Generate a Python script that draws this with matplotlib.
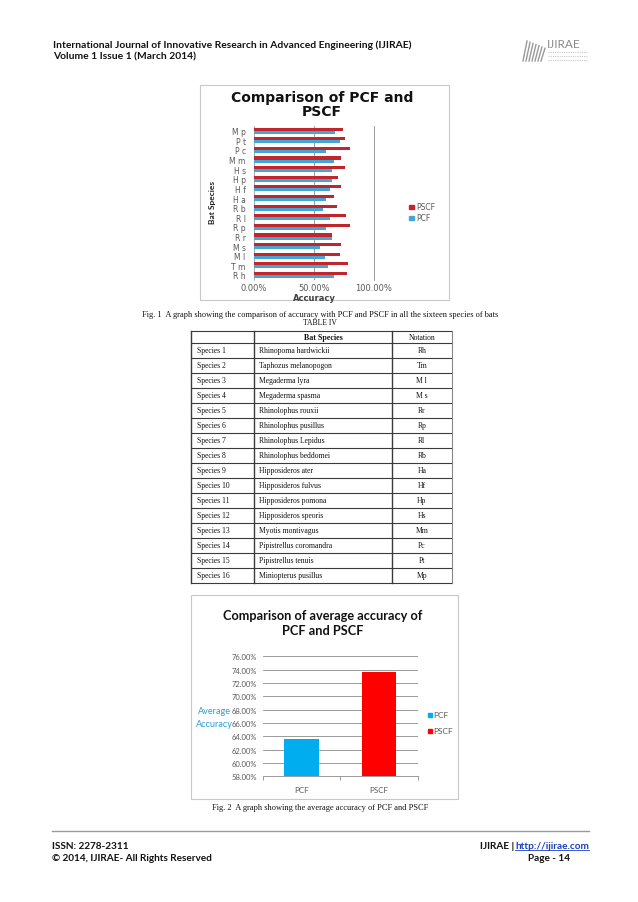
import matplotlib
matplotlib.use('Agg')
import matplotlib.pyplot as plt
from matplotlib.patches import Rectangle
import numpy as np

W, H = 638, 903
NARROW = ['Lato', 'DejaVu Sans']
SERIF = ['Liberation Serif', 'DejaVu Serif']
SANS = ['DejaVu Sans']

# ---------------- data ----------------
bar_labels = ['R h', 'T m', 'M l', 'M s', 'R r', 'R p', 'R l', 'R b',
              'H a', 'H f', 'H p', 'H s', 'M m', 'P c', 'P t', 'M p']
pcf_acc = [66.9, 62.1, 59.6, 55.1, 65.2, 59.8, 63.5, 57.9,
           59.8, 63.8, 65.4, 65.4, 66.9, 59.8, 72.2, 68.0]
pscf_acc = [78.1, 78.7, 72.2, 72.5, 65.2, 80.3, 76.7, 69.7,
            66.9, 72.8, 70.5, 75.8, 73.0, 80.1, 76.4, 74.2]
series_names = ['PSCF', 'PCF']
fig1_xticks = [0, 50, 100]

species_ids = ['Species %d' % i for i in range(1, 17)]
species_names = ['Rhinopoma hardwickii', 'Taphozus melanopogon', 'Megaderma lyra',
                 'Megaderma spasma', 'Rhinolophus rouxii', 'Rhinolophus pusillus',
                 'Rhinolophus Lepidus', 'Rhinolophus beddomei', 'Hipposideros ater',
                 'Hipposideros fulvus', 'Hipposideros pomona', 'Hipposideros speoris',
                 'Myotis montivagus', 'Pipistrellus coromandra', 'Pipistrellus tenuis',
                 'Miniopterus pusillus']
notations = ['Rh', 'Tm', 'M l', 'M s', 'Rr', 'Rp', 'Rl', 'Rb', 'Ha', 'Hf', 'Hp',
             'Hs', 'Mm', 'Pc', 'Pt', 'Mp']
table_header = ['', 'Bat Species', 'Notation']

avg_categories = ['PCF', 'PSCF']
avg_acc = [63.6, 73.7]
fig2_yticks = [58, 60, 62, 64, 66, 68, 70, 72, 74, 76]

RED1, BLUE1 = '#C0262E', '#45A5D4'
BLUE2, RED2 = '#00AEEF', '#FF0000'
GRAY_TXT = '#595959'

fig = plt.figure(figsize=(W / 100, H / 100), dpi=100)
page = fig.add_axes([0, 0, 1, 1])
page.set_xlim(0, W)
page.set_ylim(H, 0)
page.axis('off')


def axes_px(x0, y0, x1, y1):
    return fig.add_axes([x0 / W, 1 - y1 / H, (x1 - x0) / W, (y1 - y0) / H])


# ---------------- page header ----------------
page.text(53, 45, 'International Journal of Innovative Research in Advanced Engineering (IJIRAE)',
          family=NARROW, weight='bold', fontsize=7.4, va='center', ha='left', color='#111')
page.text(53, 57, 'Volume 1 Issue 1 (March 2014)',
          family=NARROW, weight='bold', fontsize=7.4, va='center', ha='left', color='#111')
# logo
for i in range(7):
    page.plot([523 + i * 3, 527 + i * 3], [62, 42 + i * 1.2], color='#9a9a9a', lw=1.0)
page.text(547, 45, 'IJIRAE', family=NARROW, fontsize=8.5, color='#8a8a8a', va='center')
for k in range(3):
    page.plot([548, 588], [53 + k * 4, 53 + k * 4], color='#c8c8c8', lw=0.8, ls=(0, (1, 1)))

# ---------------- Fig. 1 ----------------
page.add_patch(Rectangle((200, 86), 249, 215, fill=False, ec='#c8c8c8', lw=0.8))
page.text(322, 98, 'Comparison of PCF and', family=SANS, weight='bold', fontsize=10,
          ha='center', va='center', color='#111')
page.text(322, 112, 'PSCF', family=SANS, weight='bold', fontsize=10,
          ha='center', va='center', color='#111')

ax1 = axes_px(254, 126.9, 373.7, 280.8)
y = np.arange(len(bar_labels))
ax1.barh(y + 0.16, np.array(pscf_acc) / 100, height=0.32, color=RED1, zorder=3)
ax1.barh(y - 0.16, np.array(pcf_acc) / 100, height=0.32, color=BLUE1, zorder=3)
ax1.set_xlim(0, 1)
ax1.set_ylim(-0.5, len(bar_labels) - 0.5)
ax1.set_yticks(y)
ax1.set_yticklabels(bar_labels, family=SANS, fontsize=5.5, color=GRAY_TXT)
ax1.set_xticks([v / 100 for v in fig1_xticks])
ax1.set_xticklabels(['%.2f%%' % v for v in fig1_xticks], family=SANS, fontsize=6, color=GRAY_TXT)
ax1.tick_params(axis='y', length=0, pad=6)
ax1.tick_params(axis='x', length=0, pad=2.5)
ax1.grid(axis='x', color='#8a8a8a', lw=0.6, zorder=0)
for s in ['top', 'bottom']:
    ax1.spines[s].set_visible(False)
ax1.spines['left'].set_color('#b0b0b0')
ax1.spines['left'].set_linewidth(0.6)
ax1.spines['right'].set_color('#8a8a8a')
ax1.spines['right'].set_linewidth(0.6)
ax1.set_facecolor('none')
page.text(314, 298.5, 'Accuracy', family=SANS, weight='bold', fontsize=6, ha='center',
          va='center', color='#404040')
page.text(213, 203, 'Bat Species', family=NARROW, weight='bold', fontsize=6, rotation=90,
          ha='center', va='center', color='#222')
for i, (name, col) in enumerate(zip(series_names, [RED1, BLUE1])):
    yy = 208 + i * 11
    page.add_patch(Rectangle((409, yy - 1.6), 5, 3.2, color=col))
    page.text(416.5, yy, name, family=SANS, fontsize=5.5, color=GRAY_TXT, va='center')

page.text(320, 315, 'Fig. 1  A graph showing the comparison of accuracy with PCF and PSCF '
          'in all the sixteen species of bats', family=SERIF, fontsize=6, ha='center',
          va='center', color='#111')
page.text(320, 323.5, 'TABLE IV', family=SERIF, fontsize=5.5, ha='center', va='center',
          color='#111')

# ---------------- Table IV ----------------
xl, xc1, xc2, xr = 191, 254, 392, 451.5
ht, hb, rh = 332.3, 344.3, 15.0
nrows = len(species_ids)
bottom = hb + nrows * rh
lc = '#3a3a3a'
page.plot([xl, xr], [ht, ht], color=lc, lw=0.8)
for r in range(nrows + 1):
    yy = hb + r * rh
    page.plot([xl, xr], [yy, yy], color=lc, lw=0.8)
for xx in [xl, xc1, xc2]:
    page.plot([xx, xx], [ht, bottom], color=lc, lw=1.0)
page.plot([xr, xr], [ht, bottom], color='#888', lw=0.8)
page.text((xc1 + xc2) / 2, (ht + hb) / 2, table_header[1], family=SERIF, weight='bold',
          fontsize=5.8, ha='center', va='center', color='#111')
page.text((xc2 + xr) / 2, (ht + hb) / 2, table_header[2], family=SERIF,
          fontsize=5.5, ha='center', va='center', color='#111')
for r in range(nrows):
    yc = hb + r * rh + rh / 2 - 1.2
    page.text(197, yc, species_ids[r], family=SERIF, fontsize=5.5, va='center', color='#111')
    page.text(259, yc, species_names[r], family=SERIF, fontsize=5.5, va='center', color='#111')
    page.text((xc2 + xr) / 2, yc, notations[r], family=SERIF, fontsize=5.5, va='center',
              ha='center', color='#111')

# ---------------- Fig. 2 ----------------
page.add_patch(Rectangle((191, 596), 267, 204, fill=False, ec='#c8c8c8', lw=0.8))
page.text(323, 616.5, 'Comparison of average accuracy of', family=NARROW, weight='bold',
          fontsize=9.2, ha='center', va='center', color='#111')
page.text(323, 631, 'PCF and PSCF', family=NARROW, weight='bold',
          fontsize=9.2, ha='center', va='center', color='#111')

ax2 = axes_px(262.7, 657.3, 417.7, 777.3)
xpos = np.arange(len(avg_categories))
ax2.bar(xpos, np.array(avg_acc) / 100, width=0.44, color=[BLUE2, RED2], zorder=3)
ax2.set_xlim(-0.5, len(avg_categories) - 0.5)
ax2.set_ylim(fig2_yticks[0] / 100, fig2_yticks[-1] / 100)
ax2.set_yticks([v / 100 for v in fig2_yticks])
ax2.set_yticklabels(['%.2f%%' % v for v in fig2_yticks], family=NARROW, fontsize=5.5,
                    color=GRAY_TXT)
ax2.set_xticks(xpos)
ax2.set_xticklabels(avg_categories, family=NARROW, fontsize=5.8, color=GRAY_TXT)
ax2.set_xticks([-0.5, 0.5, 1.5], minor=True)
ax2.tick_params(axis='x', which='major', length=0, pad=7)
ax2.tick_params(axis='x', which='minor', length=3, color='#8a8a8a', width=0.6)
ax2.tick_params(axis='y', length=0, pad=4)
ax2.grid(axis='y', color='#8a8a8a', lw=0.6, zorder=0)
for s in ['top', 'left', 'right']:
    ax2.spines[s].set_visible(False)
ax2.spines['bottom'].set_color('#8a8a8a')
ax2.spines['bottom'].set_linewidth(0.6)
ax2.set_facecolor('none')
page.text(214, 711.5, 'Average', family=NARROW, fontsize=6.6, ha='center', va='center',
          color='#2E9FD6')
page.text(214, 725, 'Accuracy', family=NARROW, fontsize=6.6, ha='center', va='center',
          color='#2E9FD6')
for i, (name, col) in enumerate(zip(avg_categories, [BLUE2, RED2])):
    yy = 716 + i * 16
    page.add_patch(Rectangle((428, yy - 2), 4, 4, color=col))
    page.text(433, yy, name, family=NARROW, fontsize=6, color=GRAY_TXT, va='center')

page.text(320, 808, 'Fig. 2  A graph showing the average accuracy of PCF and PSCF',
          family=SERIF, fontsize=6, ha='center', va='center', color='#111')

# ---------------- footer ----------------
page.plot([52, 589], [832, 832], color='#9a9a9a', lw=1.0)
page.text(52, 847, 'ISSN: 2278-2311', family=NARROW, weight='bold', fontsize=7.2,
          va='center', color='#111')
page.text(52, 859, '\u00a9 2014, IJIRAE- All Rights Reserved', family=NARROW, weight='bold',
          fontsize=7.2, va='center', color='#111')
t_url = page.text(589, 847, 'http://ijirae.com', family=NARROW, weight='bold', fontsize=7.2,
                  va='center', ha='right', color='#1a3fbf')
fig.canvas.draw()
bb = t_url.get_window_extent()
inv = page.transData.inverted()
(ux0, _), (ux1, _) = inv.transform([[bb.x0, bb.y0], [bb.x1, bb.y0]])
page.plot([ux0, ux1], [851.5, 851.5], color='#1a3fbf', lw=0.6)
page.text(ux0 - 1, 847, 'IJIRAE |', family=NARROW, weight='bold', fontsize=7.2,
          va='center', ha='right', color='#111')
page.text(570, 859, 'Page - 14', family=NARROW, weight='bold', fontsize=7.2,
          va='center', ha='right', color='#111')

fig.savefig('out.png', dpi=100)
